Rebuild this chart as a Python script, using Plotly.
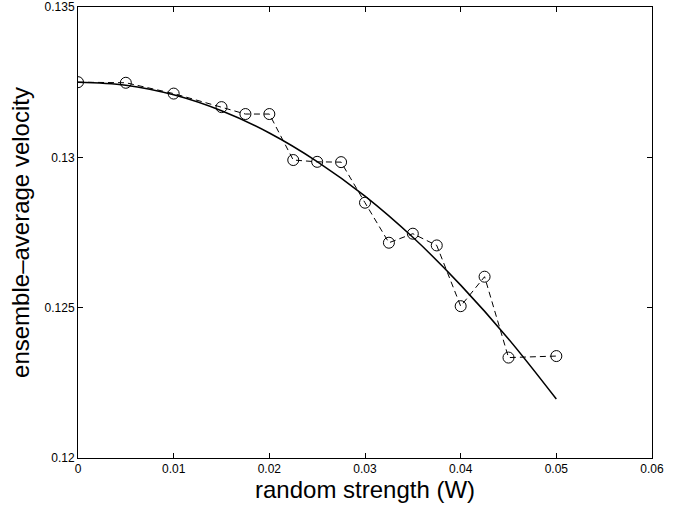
import plotly.graph_objects as go

# measured data (circles, dashed)
w_data = [0.0, 0.005, 0.01, 0.015, 0.0175, 0.02, 0.0225, 0.025, 0.0275, 0.03,
          0.0325, 0.035, 0.0375, 0.04, 0.0425, 0.045, 0.05]
v_data = [0.1325, 0.13248, 0.13212, 0.13167, 0.13144, 0.13144, 0.12991, 0.12985,
          0.12984, 0.12849, 0.12716, 0.12746, 0.12707, 0.12505, 0.12603, 0.12334, 0.12339]

# fitted curve (solid)
w_fit = [0.0, 0.005, 0.01, 0.015, 0.02, 0.025, 0.03, 0.035, 0.04, 0.045, 0.05]
v_fit = [0.1325, 0.13240, 0.13208, 0.13155, 0.13081, 0.12986, 0.12871, 0.12734,
         0.12575, 0.12396, 0.12196]

x_ticks = [0, 0.01, 0.02, 0.03, 0.04, 0.05, 0.06]
x_ticklabels = ["0", "0.01", "0.02", "0.03", "0.04", "0.05", "0.06"]
y_ticks = [0.12, 0.125, 0.13, 0.135]
y_ticklabels = ["0.12", "0.125", "0.13", "0.135"]

fig = go.Figure()
fig.add_trace(go.Scatter(
    x=w_fit, y=v_fit, mode="lines",
    line=dict(color="black", width=1.5, shape="spline"),
    showlegend=False, hoverinfo="skip"))
fig.add_trace(go.Scatter(
    x=w_data, y=v_data, mode="lines+markers",
    line=dict(color="black", width=1, dash="6px,4px"),
    marker=dict(symbol="circle-open", size=11, color="black", line=dict(width=1, color="black")),
    showlegend=False))

font_family = "Liberation Sans, Arial, Helvetica, sans-serif"
axis_common = dict(
    showgrid=False, zeroline=False, showline=True, linecolor="black", linewidth=1,
    mirror="ticks", ticks="inside", ticklen=5, tickwidth=1, tickcolor="black",
    tickfont=dict(family=font_family, size=12, color="black"),
    automargin=False,
)
fig.update_xaxes(range=[0, 0.06], tickvals=x_ticks, ticktext=x_ticklabels, **axis_common)
fig.update_yaxes(range=[0.12, 0.135], tickvals=y_ticks, ticktext=y_ticklabels,
                 title=dict(text="ensemble–average velocity", font=dict(family=font_family, size=24, color="black"), standoff=8),
                 **axis_common)
fig.add_annotation(
    text="random strength (W)", xref="paper", yref="paper", x=0.5, y=-0.069,
    xanchor="center", yanchor="middle", showarrow=False,
    font=dict(family=font_family, size=24, color="black"))
fig.update_layout(
    width=691, height=508,
    margin=dict(l=78, r=39, t=7, b=50),
    paper_bgcolor="white", plot_bgcolor="white",
)
fig.write_html("out.html", config={"displayModeBar": False},
               post_script="document.body.style.margin='0px';document.body.style.padding='0px';")
